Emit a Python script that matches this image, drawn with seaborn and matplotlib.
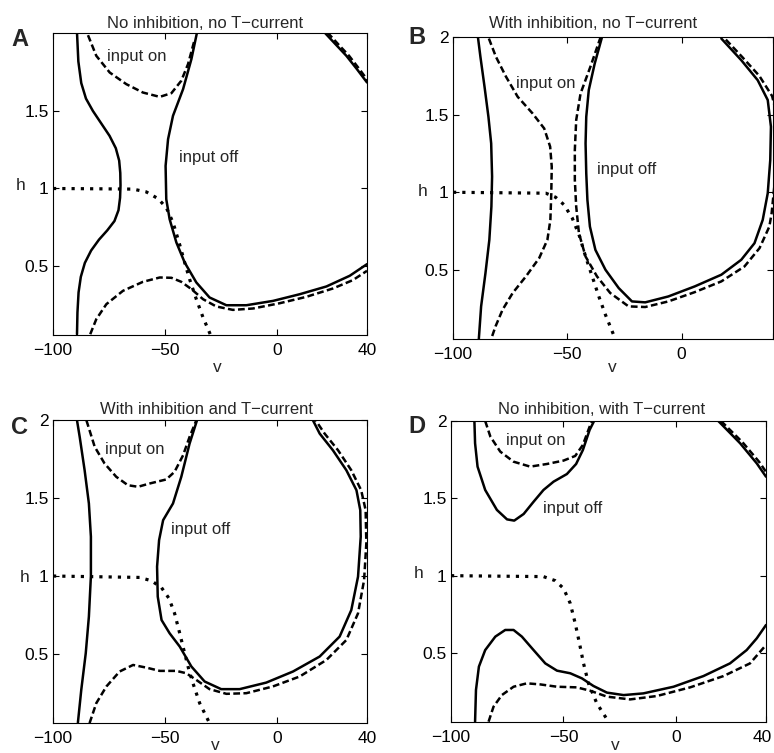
import matplotlib
matplotlib.use("Agg")
import matplotlib.pyplot as plt
import matplotlib.transforms as mtransforms
import seaborn as sns

# ---------------- Panel A: no inhibition, no T-current ----------------
A_OFF_LEFT_V = [-89.3, -89.1, -88.6, -87.6, -85.8, -83.0, -79.5, -75.8, -72.6, -70.8, -70.1, -69.9, -70.0, -70.5, -72.0, -74.8, -78.5, -82.2, -85.3, -87.4, -88.7, -89.3]
A_OFF_LEFT_H = [0.06, 0.20, 0.33, 0.43, 0.52, 0.60, 0.67, 0.73, 0.79, 0.86, 0.94, 1.02, 1.10, 1.18, 1.26, 1.34, 1.42, 1.50, 1.58, 1.68, 1.82, 2.006]
A_OFF_LOOP_V = [-35.8, -38.3, -42.0, -46.5, -48.7, -49.8, -49.5, -48.0, -45.0, -41.3, -36.1, -30.2, -22.7, -13.8, -1.9, 10.0, 21.9, 32.3, 40.0]
A_OFF_LOOP_H = [2.006, 1.834, 1.641, 1.469, 1.318, 1.146, 0.931, 0.802, 0.652, 0.523, 0.394, 0.297, 0.247, 0.247, 0.275, 0.318, 0.368, 0.437, 0.512]
A_OFF_TOP_V = [21.1, 26.0, 30.8, 35.5, 40.0]
A_OFF_TOP_H = [2.006, 1.93, 1.856, 1.77, 1.684]
A_ON_UPPER_V = [-84.4, -80.7, -74.7, -67.3, -59.9, -52.4, -47.2, -42.8, -39.8, -36.8]
A_ON_UPPER_H = [1.989, 1.856, 1.748, 1.673, 1.619, 1.591, 1.615, 1.695, 1.802, 1.963]
A_ON_LOWER_V = [-83.4, -80.7, -76.2, -68.8, -59.9, -52.4, -47.2, -42.8, -38.3, -33.1, -27.2, -19.8, -10.8, 1.1, 12.9, 24.8, 33.7, 40.0]
A_ON_LOWER_H = [0.06, 0.157, 0.254, 0.340, 0.398, 0.426, 0.424, 0.398, 0.351, 0.286, 0.239, 0.217, 0.226, 0.260, 0.301, 0.355, 0.409, 0.469]
A_ON_TOP_V = [22.4, 27.2, 32.0, 36.6, 41.0]
A_ON_TOP_H = [2.006, 1.93, 1.856, 1.77, 1.684]
A_HINF_V = [-100, -79.2, -64.3, -58.4, -53.2, -49.5, -46.5, -43.8, -41.3, -39.1, -36.1, -33.1, -29.9]
A_HINF_H = [1.0, 0.998, 0.996, 0.978, 0.935, 0.877, 0.781, 0.652, 0.523, 0.415, 0.286, 0.168, 0.06]

# ---------------- Panel B: with inhibition, no T-current ----------------
B_OFF_LEFT_V = [-88.7, -87.7, -85.8, -84.1, -83.2, -82.9, -83.3, -84.5, -86.2, -88.0, -89.1]
B_OFF_LEFT_H = [0.055, 0.265, 0.479, 0.694, 0.908, 1.101, 1.315, 1.486, 1.679, 1.872, 2.0]
B_OFF_LOOP_V = [-34.8, -38.0, -40.6, -41.7, -42.0, -41.7, -41.2, -40.1, -37.7, -33.3, -27.5, -21.7, -15.9, -5.8, 5.8, 17.4, 26.1, 31.9, 35.5, 37.7, 38.8, 39.1, 37.7, 33.3, 26.1, 17.4]
B_OFF_LOOP_H = [2.0, 1.829, 1.658, 1.486, 1.315, 1.122, 0.951, 0.779, 0.629, 0.501, 0.383, 0.297, 0.291, 0.329, 0.394, 0.469, 0.565, 0.672, 0.822, 0.994, 1.208, 1.422, 1.594, 1.722, 1.851, 1.99]
B_ON_LEFT_V = [-84.3, -81.2, -76.8, -71.7, -65.2, -60.1, -57.5, -56.8, -57.0, -57.4, -58.7, -62.3, -68.1, -73.9, -78.3, -81.4, -83.3]
B_ON_LEFT_H = [1.99, 1.872, 1.744, 1.615, 1.508, 1.411, 1.294, 1.165, 0.994, 0.822, 0.694, 0.576, 0.458, 0.351, 0.244, 0.136, 0.055]
B_ON_LOOP_V = [-35.4, -39.9, -44.2, -46.1, -46.7, -46.7, -46.1, -44.9, -42.0, -37.0, -31.2, -23.2, -15.9, -5.8, 5.8, 17.4, 27.5, 34.1, 38.4, 39.4, 41.0, 41.5, 40.8, 39.6, 34.0, 26.6, 18.3]
B_ON_LOOP_H = [2.0, 1.808, 1.636, 1.465, 1.272, 1.079, 0.908, 0.736, 0.586, 0.458, 0.351, 0.265, 0.261, 0.297, 0.357, 0.426, 0.522, 0.640, 0.779, 0.865, 1.1, 1.35, 1.55, 1.62, 1.75, 1.87, 2.0]
B_HINF_V = [-100, -59.4, -55.1, -51.4, -47.8, -44.6, -42.0, -39.1, -36.2, -33.3, -29.0]
B_HINF_H = [1.0, 0.994, 0.968, 0.919, 0.833, 0.715, 0.586, 0.458, 0.329, 0.211, 0.055]

# ---------------- Panel C: with inhibition and T-current ----------------
C_OFF_LEFT_V = [-88.9, -87.4, -85.4, -84.0, -83.1, -83.1, -84.0, -85.9, -88.1, -89.3]
C_OFF_LEFT_H = [0.06, 0.270, 0.505, 0.740, 1.0, 1.252, 1.465, 1.678, 1.892, 1.998]
C_OFF_LOOP_V = [-35.8, -39.1, -42.8, -46.5, -50.9, -52.7, -53.6, -53.3, -51.6, -48.0, -43.5, -38.3, -32.4, -25.0, -16.8, -4.9, 7.0, 18.9, 27.8, 33.0, 36.0, 37.2, 37.0, 35.3, 30.8, 24.8, 18.9, 15.9]
C_OFF_LOOP_H = [1.998, 1.849, 1.636, 1.465, 1.358, 1.230, 1.060, 0.868, 0.718, 0.633, 0.548, 0.420, 0.324, 0.275, 0.275, 0.317, 0.388, 0.484, 0.612, 0.782, 0.996, 1.252, 1.422, 1.550, 1.678, 1.806, 1.913, 1.998]
C_ON_UPPER_V = [-85.1, -81.4, -77.0, -71.8, -66.6, -62.1, -56.9, -49.5, -45.8, -42.0, -39.1, -36.1]
C_ON_UPPER_H = [1.998, 1.828, 1.721, 1.636, 1.582, 1.572, 1.593, 1.619, 1.668, 1.774, 1.892, 1.998]
C_ON_LOWER_V = [-83.7, -80.7, -76.2, -70.3, -64.3, -58.4, -52.4, -45.0, -40.6, -36.1, -30.2, -22.7, -13.8, -2.0, 10.0, 21.9, 30.8, 36.0, 38.7, 39.7, 39.4, 37.4, 33.0, 27.1, 21.1, 17.1]
C_ON_LOWER_H = [0.057, 0.185, 0.292, 0.388, 0.430, 0.413, 0.392, 0.392, 0.377, 0.334, 0.275, 0.245, 0.249, 0.292, 0.356, 0.462, 0.590, 0.761, 0.974, 1.209, 1.422, 1.550, 1.678, 1.806, 1.913, 1.998]
C_HINF_V = [-100, -61.4, -56.2, -51.7, -48.3, -45.8, -43.5, -41.3, -39.4, -37.6, -34.6, -30.2]
C_HINF_H = [1.0, 0.991, 0.970, 0.927, 0.857, 0.761, 0.633, 0.505, 0.398, 0.313, 0.185, 0.057]

# ---------------- Panel D: no inhibition, with T-current ----------------
D_OFF_UPPER_V = [-89.6, -89.3, -88.2, -84.8, -79.6, -75.1, -71.9, -67.7, -63.3, -58.9, -54.4, -48.5, -44.4, -41.4, -38.4, -36.4]
D_OFF_UPPER_H = [2.0, 1.856, 1.705, 1.554, 1.425, 1.364, 1.356, 1.399, 1.478, 1.554, 1.608, 1.657, 1.722, 1.812, 1.942, 2.0]
D_OFF_LOWER_V = [-89.3, -88.9, -87.6, -84.8, -80.3, -75.9, -72.2, -68.5, -63.3, -58.1, -52.9, -47.0, -41.8, -36.7, -30.7, -23.3, -14.5, -1.1, 12.2, 24.0, 31.4, 35.9, 40.0]
D_OFF_LOWER_H = [0.056, 0.261, 0.412, 0.519, 0.606, 0.649, 0.649, 0.606, 0.519, 0.433, 0.386, 0.369, 0.336, 0.287, 0.244, 0.228, 0.239, 0.282, 0.351, 0.433, 0.519, 0.595, 0.681]
D_OFF_TOP_V = [18.8, 28.5, 35.9, 40.0]
D_OFF_TOP_H = [2.0, 1.856, 1.726, 1.640]
D_ON_UPPER_V = [-84.8, -82.5, -78.1, -72.2, -64.8, -57.4, -50.0, -44.8, -41.4, -38.4, -37.3]
D_ON_UPPER_H = [2.0, 1.899, 1.802, 1.737, 1.705, 1.722, 1.744, 1.774, 1.845, 1.963, 2.0]
D_ON_LOWER_V = [-83.3, -81.1, -77.4, -72.2, -66.3, -60.3, -52.9, -44.1, -38.1, -30.7, -20.4, -8.5, 6.3, 21.1, 32.9, 40.0]
D_ON_LOWER_H = [0.056, 0.153, 0.228, 0.282, 0.304, 0.297, 0.282, 0.278, 0.256, 0.218, 0.200, 0.222, 0.278, 0.351, 0.433, 0.552]
D_ON_TOP_V = [20.0, 29.6, 37.0, 41.0]
D_ON_TOP_H = [2.0, 1.862, 1.735, 1.650]
D_HINF_V = [-100, -58.9, -53.7, -50.0, -47.0, -44.8, -42.9, -41.1, -38.9, -35.2, -30.0]
D_HINF_H = [1.0, 0.994, 0.968, 0.918, 0.821, 0.692, 0.563, 0.433, 0.304, 0.175, 0.056]

TITLES = ["No inhibition, no T\u2212current", "With inhibition, no T\u2212current",
          "With inhibition and T\u2212current", "No inhibition, with T\u2212current"]
LETTERS = ["A", "B", "C", "D"]
X_TICKS = [-100, -50, 0, 40]
X_TICK_LABELS = ["\u2212100", "\u221250", "0", "40"]
Y_TICKS = [0.5, 1, 1.5, 2]
Y_TICK_LABELS = ["0.5", "1", "1.5", "2"]
# (v, h) anchor of the "input on" / "input off" annotations in each panel
ON_LABEL_POS = [(-75.9, 1.85), (-72.5, 1.70), (-77.0, 1.81), (-75.4, 1.873)]
OFF_LABEL_POS = [(-43.8, 1.20), (-37.0, 1.144), (-47.5, 1.30), (-59.2, 1.435)]

sns.set_style("ticks")
plt.rcParams["font.family"] = ["Liberation Sans", "DejaVu Sans"]

W, H = 774, 753
fig = plt.figure(figsize=(W / 100, H / 100), dpi=100)


def px_axes(left, right, top, bottom):
    return fig.add_axes([left / W, 1 - bottom / H, (right - left) / W, (bottom - top) / H])


LW = 1.8
SOLID = ("-", LW)
DASHED = ((0, (2.7, 1.35)), LW)
DOTTED = ((0, (1.0, 1.9)), 2.3)


def curve(ax, v, h, style):
    ls, lw = style
    sns.lineplot(x=v, y=h, ax=ax, sort=False, estimator=None, color="black",
                 linewidth=lw, linestyle=ls, legend=False,
                 solid_joinstyle="round", dash_capstyle="butt")


panels = [
    dict(box=(53, 367, 33, 335), ylim=(0.055, 2.003), yticks=Y_TICKS[:3],
         curves=[(A_OFF_LEFT_V, A_OFF_LEFT_H, SOLID), (A_OFF_LOOP_V, A_OFF_LOOP_H, SOLID),
                 (A_OFF_TOP_V, A_OFF_TOP_H, SOLID), (A_ON_UPPER_V, A_ON_UPPER_H, DASHED),
                 (A_ON_LOWER_V, A_ON_LOWER_H, DASHED), (A_ON_TOP_V, A_ON_TOP_H, DASHED),
                 (A_HINF_V, A_HINF_H, DOTTED)],
         letter=(20, 40), title_x=205, title_y=28, hlab=(21, 186), vlab=(217, 367)),
    dict(box=(453, 773, 37, 339), ylim=(0.055, 2.0), yticks=Y_TICKS,
         curves=[(B_OFF_LEFT_V, B_OFF_LEFT_H, SOLID), (B_OFF_LOOP_V, B_OFF_LOOP_H, SOLID),
                 (B_ON_LEFT_V, B_ON_LEFT_H, DASHED), (B_ON_LOOP_V, B_ON_LOOP_H, DASHED),
                 (B_HINF_V, B_HINF_H, DOTTED)],
         letter=(417, 38), title_x=593, title_y=28, hlab=(423, 192), vlab=(612, 368)),
    dict(box=(53, 367, 420, 723), ylim=(0.058, 2.0), yticks=Y_TICKS,
         curves=[(C_OFF_LEFT_V, C_OFF_LEFT_H, SOLID), (C_OFF_LOOP_V, C_OFF_LOOP_H, SOLID),
                 (C_ON_UPPER_V, C_ON_UPPER_H, DASHED), (C_ON_LOWER_V, C_ON_LOWER_H, DASHED),
                 (C_HINF_V, C_HINF_H, DOTTED)],
         letter=(20, 427), title_x=206, title_y=414, hlab=(25, 577), vlab=(215, 745)),
    dict(box=(451, 766, 421, 722), ylim=(0.054, 2.0), yticks=Y_TICKS,
         curves=[(D_OFF_UPPER_V, D_OFF_UPPER_H, SOLID), (D_OFF_LOWER_V, D_OFF_LOWER_H, SOLID),
                 (D_OFF_TOP_V, D_OFF_TOP_H, SOLID), (D_ON_UPPER_V, D_ON_UPPER_H, DASHED),
                 (D_ON_LOWER_V, D_ON_LOWER_H, DASHED), (D_ON_TOP_V, D_ON_TOP_H, DASHED),
                 (D_HINF_V, D_HINF_H, DOTTED)],
         letter=(417, 426), title_x=602, title_y=414, hlab=(419, 573), vlab=(615, 745)),
]

FS_TICK = 12.5
FS_TEXT = 12
for i, p in enumerate(panels):
    ax = px_axes(*p["box"])
    for v, h, style in p["curves"]:
        curve(ax, v, h, style)
    ax.set_xlim(-100, 40)
    ax.set_ylim(*p["ylim"])
    ax.set_xticks(X_TICKS)
    labels = list(X_TICK_LABELS)
    if i == 1:
        labels[-1] = ""
    ax.set_xticklabels(labels)
    ax.set_yticks(p["yticks"])
    ax.set_yticklabels(Y_TICK_LABELS[:len(p["yticks"])])
    ax.tick_params(direction="in", top=True, right=True, length=4, width=0.8,
                   labelsize=FS_TICK, colors="black")
    ax.tick_params(axis="x", pad=6)
    ax.tick_params(axis="y", pad=3)
    for s in ax.spines.values():
        s.set_linewidth(0.8)
        s.set_color("black")
    ax.set_xlabel("")
    ax.set_ylabel("")
    if i == 3:
        # keep the last tick label inside the figure's right edge
        last = ax.get_xticklabels()[-1]
        last.set_transform(last.get_transform() +
                           mtransforms.ScaledTranslation(-4 / 100, 0, fig.dpi_scale_trans))

    ov, oh = ON_LABEL_POS[i]
    ax.text(ov, oh, "input on", fontsize=FS_TEXT, ha="left", va="center")
    fv, fh = OFF_LABEL_POS[i]
    ax.text(fv, fh, "input off", fontsize=FS_TEXT, ha="left", va="center")

    fig.text(p["title_x"] / W, 1 - p["title_y"] / H, TITLES[i], fontsize=FS_TEXT,
             ha="center", va="baseline")
    fig.text(p["letter"][0] / W, 1 - p["letter"][1] / H, LETTERS[i], fontsize=17,
             fontweight="bold", ha="center", va="center")
    fig.text(p["hlab"][0] / W, 1 - p["hlab"][1] / H, "h", fontsize=FS_TICK,
             ha="center", va="center")
    fig.text(p["vlab"][0] / W, 1 - p["vlab"][1] / H, "v", fontsize=FS_TICK,
             ha="center", va="center")

fig.savefig("out.png", dpi=100, facecolor="white")
